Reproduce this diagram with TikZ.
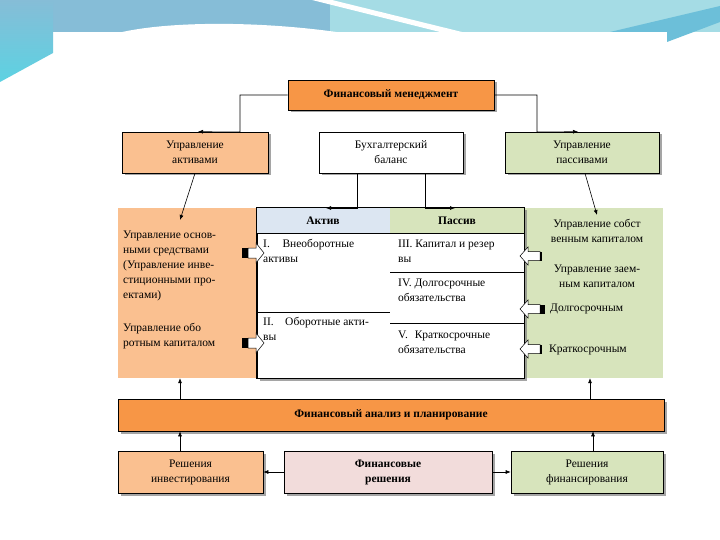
\documentclass[tikz,border=0pt]{standalone}
\usepackage{fontspec}
\setmainfont{Liberation Serif}
\usetikzlibrary{shadows,arrows.meta,calc}
\definecolor{orD}{HTML}{F79646}
\definecolor{orL}{HTML}{FAC090}
\definecolor{grL}{HTML}{D7E4BC}
\definecolor{pkL}{HTML}{F2DCDB}
\definecolor{blL}{HTML}{DCE6F2}
\definecolor{bgBlue}{HTML}{86BDD7}
\definecolor{bgAqua}{HTML}{A5DCE5}
\definecolor{bgCyan}{HTML}{5CD2E2}
\definecolor{bgDeep}{HTML}{6CBFD9}
\begin{document}
\begin{tikzpicture}[x=1pt,y=-1pt, font=\fontsize{11.5}{15}\selectfont,
  box/.style={draw=black, line width=0.6pt, align=center, inner sep=0pt,
    drop shadow={shadow xshift=2.5pt, shadow yshift=-2.5pt, fill=black!50, opacity=0.7}},
  panel/.style={inner sep=0pt},
  arr/.style={-{Latex[length=5pt,width=4pt]}, line width=0.6pt},
  ln/.style={line width=0.6pt},
  txt/.style={inner sep=0pt, align=left, anchor=north west},
  ctxt/.style={inner sep=0pt, align=center, anchor=north},
  blk/.style={fill=white, draw=black, line width=0.5pt},
  dark/.style={fill=black}]
\useasboundingbox (0,0) rectangle (720,540);
\fill[white] (0,0) rectangle (720,540);
% slide decoration
\fill[bgBlue] (0,0) rectangle (340,32);
\fill[bgAqua] (330,0) rectangle (720,32);
\fill[white] (312,0) -- (332,0) -- (462,32) -- (440,32) -- cycle;
\shade[top color=bgBlue, bottom color=bgCyan] (0,0) -- (53,0) -- (53,53) -- (0,82) -- cycle;
\fill[white] (120,32.5) .. controls (170,21) and (260,21) .. (340,32.5) -- cycle;
\fill[bgDeep] (610,32) -- (720,6) -- (720,22) -- (667,42) -- (667,32) -- cycle;

% top row
\node[box, fill=orD, minimum width=206pt, minimum height=30pt, font=\fontsize{11.5}{15}\selectfont\bfseries] (fm) at (391,95) {Финансовый менеджмент};
\node[box, fill=orL, minimum width=146pt, minimum height=41pt] (ua) at (195,152.5) {Управление\\активами};
\node[box, fill=white, minimum width=144pt, minimum height=41pt] (bb) at (391,152.5) {Бухгалтерский\\баланс};
\node[box, fill=grL, minimum width=154pt, minimum height=41pt] (up) at (582,152.5) {Управление\\пассивами};

% panels and table
\node[panel, fill=orL, minimum width=139pt, minimum height=170pt] (lp) at (187.5,293) {};
\node[panel, fill=grL, minimum width=140pt, minimum height=170pt] (rp) at (593,293) {};
\node[box, fill=white, minimum width=267pt, minimum height=170pt] (tb) at (390.5,293) {};
\fill[blL] (257.3,208.3) rectangle (390,233);
\fill[grL] (390,208.3) rectangle (523.7,233);
\draw[ln] (tb.north west) rectangle (tb.south east);
\draw[ln] (257,233) -- (524,233);
\draw[ln] (257,312) -- (390,312);
\draw[ln] (390,272) -- (524,272);
\draw[ln] (390,323) -- (524,323);
\node[font=\fontsize{11.5}{15}\selectfont\bfseries, inner sep=0pt] (ha) at (323,221) {Актив};
\node[font=\fontsize{11.5}{15}\selectfont\bfseries, inner sep=0pt] (hp) at (457,221) {Пассив};

% table texts
\node[txt] (t1) at (263,239.5) {I.\hspace{1.1em}Внеоборотные\\активы};
\node[txt] (t2) at (263,317.5) {II.\hspace{1.0em}Оборотные акти-\\вы};
\node[txt] (t3) at (398,239.5) {III. Капитал и резер\\вы};
\node[txt] (t4) at (398,278.5) {IV. Долгосрочные\\обязательства};
\node[txt] (t5) at (398,330.5) {V.\hspace{0.6em}Краткосрочные\\обязательства};

% left panel texts
\node[txt] (l1) at (123,230.5) {Управление основ-\\ными средствами\\(Управление инве-\\стиционными про-\\ектами)};
\node[txt] (l2) at (123,323.5) {Управление обо\\ротным капиталом};
% right panel texts
\node[ctxt] (r1) at (597,219.5) {Управление собст\\венным капиталом};
\node[ctxt] (r2) at (597,264.5) {Управление заем-\\ным капиталом};
\node[txt] (r3) at (550,303.5) {Долгосрочным};
\node[txt] (r4) at (549,344.5) {Краткосрочным};

% block arrows left
\foreach \yy in {253, 343}{
  \draw[blk] (248,\yy-5) -- (256,\yy-5) -- (256,\yy-10) -- (264,\yy) -- (256,\yy+10) -- (256,\yy+5) -- (248,\yy+5) -- cycle;
  \fill[dark] (242,\yy-5) rectangle (248,\yy+5);
}
% block arrows right
\foreach \yy/\w in {256/2, 309/5, 349/2}{
  \draw[blk] (520,\yy) -- (528,\yy-9) -- (528,\yy-4.5) -- (540,\yy-4.5) -- (540,\yy+4.5) -- (528,\yy+4.5) -- (528,\yy+9) -- cycle;
  \fill[dark] (540,\yy-4.5) rectangle (540+\w,\yy+4.5);
}

% bottom
\node[box, fill=orD, minimum width=546pt, minimum height=32pt, font=\fontsize{11.5}{15}\selectfont\bfseries] (bar) at (391,415) {Финансовый анализ и планирование};
\node[box, fill=orL, minimum width=145pt, minimum height=42pt] (ri) at (190.5,472) {Решения\\инвестирования};
\node[box, fill=pkL, minimum width=208pt, minimum height=42pt, font=\fontsize{11.5}{15}\selectfont\bfseries] (fr) at (388,472) {Финансовые\\решения};
\node[box, fill=grL, minimum width=152pt, minimum height=42pt] (rf) at (587,472) {Решения\\финансирования};

% connectors
\coordinate (c1) at ($(ua.north)+(3,0)$);
\coordinate (c2) at ($(up.north)+(-4,0)$);
\draw[arr] (fm.west) -| (240,132) -- (c1);
\draw[arr] (fm.east) -| (537,132) -- (c2);
\coordinate (c3) at (326,208);
\coordinate (c4) at (455,208);
\draw[arr] ([xshift=-34pt]bb.south) |- (c3);
\draw[arr] ([xshift=34pt]bb.south) |- (c4);
\coordinate (c5) at (180,220);
\coordinate (c6) at (597,215);
\draw[arr] (ua.south) -- (c5);
\draw[arr] ([xshift=3pt]up.south) -- (c6);
\draw[arr] (bar.north -| 180,0) -- (lp.south -| 180,0);
\draw[arr] (bar.north -| 590,0) -- (rp.south -| 590,0);
\draw[arr] (ri.north -| 180,0) -- (bar.south -| 180,0);
\draw[arr] (rf.north -| 593,0) -- (bar.south -| 593,0);
\draw[arr] (fr.west) -- (ri.east);
\draw[arr] (fr.east) -- (rf.west);
\end{tikzpicture}
\end{document}
